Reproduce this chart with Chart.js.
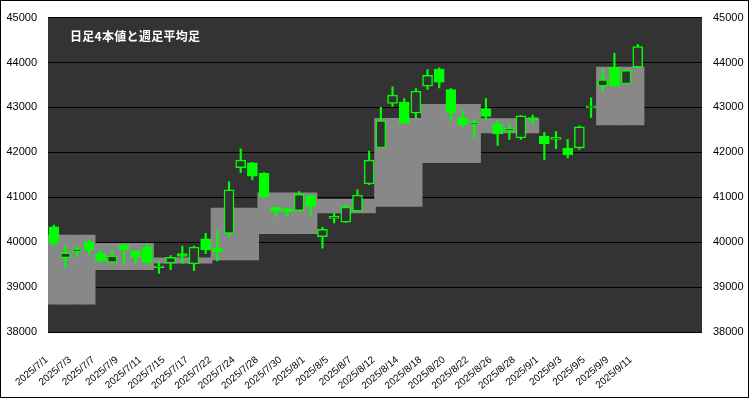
<!DOCTYPE html>
<html>
<head>
<meta charset="utf-8">
<script src="https://cdn.jsdelivr.net/npm/chart.js@4.4.1/dist/chart.umd.min.js"></script>
<style>
    html, body { margin: 0; padding: 0; background: #fff; }
    #wrap { position: relative; width: 749px; height: 398px; }
    #frame { position: absolute; left: 0; top: 0; width: 749px; height: 398px; box-sizing: border-box; border: 1px solid #000; pointer-events: none; }
    #title { position: absolute; left: 70px; top: 28px; color: #fff; font: bold 12px "Noto Sans CJK JP", sans-serif; line-height: 16px; white-space: nowrap; letter-spacing: 0.3px; }
</style>
</head>
<body>
<div id="wrap">
    <canvas id="candleChart" width="749" height="398"></canvas>
    <div id="title">日足4本値と週足平均足</div>
    <div id="frame"></div>
</div>
<script>
// Trading days (blank slots at the end are empty categories)
var dates = ["2025/7/1","2025/7/2","2025/7/3","2025/7/4","2025/7/7","2025/7/8","2025/7/9","2025/7/10","2025/7/11",
    "2025/7/14","2025/7/15","2025/7/16","2025/7/17","2025/7/18","2025/7/22","2025/7/23","2025/7/24","2025/7/25",
    "2025/7/28","2025/7/29","2025/7/30","2025/7/31","2025/8/1","2025/8/4","2025/8/5","2025/8/6","2025/8/7","2025/8/8",
    "2025/8/12","2025/8/13","2025/8/14","2025/8/15","2025/8/18","2025/8/19","2025/8/20","2025/8/21","2025/8/22",
    "2025/8/25","2025/8/26","2025/8/27","2025/8/28","2025/8/29","2025/9/1","2025/9/2","2025/9/3","2025/9/4","2025/9/5",
    "2025/9/8","2025/9/9","2025/9/10","2025/9/11","","","","",""];

// Daily four prices
var openPrices  = [40340,39650,39790,40010,39745,39550,39935,39805,39890,39430,39535,39745,39515,40075,39865,40195,41660,41765,
    41530,40775,40745,40700,41035,40120,40530,40445,40690,41295,42100,43090,43120,42870,43475,43855,43400,42775,42625,
    42975,42630,42490,42320,42775,42360,42290,42095,42100,42990,43475,43895,43525,43895];
var highPrices  = [40380,39930,39895,40040,39830,39830,39965,39810,39965,39585,39700,39915,39915,40195,40250,41345,42080,41775,
    41550,40780,40750,41125,41040,40330,40650,40850,41165,42030,43000,43460,43195,43420,43840,43880,43420,42925,42740,
    43195,42705,42630,42820,42830,42445,42460,42285,42590,43215,43840,44210,43830,44405];
var lowPrices   = [39910,39440,39675,39730,39550,39510,39510,39525,39510,39305,39390,39525,39365,39745,39585,40135,41550,41385,
    40990,40575,40575,40690,40610,39865,40430,40440,40680,41280,42095,43020,42640,42760,43400,43435,42705,42580,42335,
    42705,42155,42285,42285,42630,41835,42080,41875,42065,42775,43365,43470,43520,43890];
var closePrices = [39975,39760,39800,39820,39585,39695,39835,39660,39550,39445,39660,39680,39890,39830,39790,41165,41830,41470,
    41000,40690,40670,41065,40795,40285,40545,40780,41050,41825,42705,43275,42650,43365,43715,43560,42885,42615,42640,
    42800,42410,42505,42815,42730,42190,42305,41945,42570,43005,43620,43475,43825,44355];

// Weekly average bar (low / high) and number of trading days per week
var weekDays = [4,5,5,4,5,5,4,5,5,5,4];
var weekLow  = [38620,39390,39535,39605,40190,40650,40795,41770,42430,null,42610];
var weekHigh = [40160,39975,39650,40760,41100,40955,42755,43070,42750,null,43900];

// Axis range
var yMin = 38000;
var yMax = 45000;
var yStep = 1000;

var green = '#00ff00';
var plotBg = '#333333';

// Builds one [low, high] entry per day from the weekly lists
function weeklyRanges() {
    var out = [];
    for (var w = 0; w < weekDays.length; w++) {
        for (var d = 0; d < weekDays[w]; d++) {
            out.push(weekLow[w] === null ? null : [weekLow[w], weekHigh[w]]);
        }
    }
    return out;
}

var wicks = lowPrices.map(function(l, i) { return [l, highPrices[i]]; });
var bodies = openPrices.map(function(o, i) { return [o, closePrices[i]]; });
// Down days are filled green, up days are hollow
var bodyColors = openPrices.map(function(o, i) { return closePrices[i] < o ? green : plotBg; });

// Paints the dark plot area
var plotBackground = {
    id: 'plotBackground',
    beforeDraw: function(chart) {
        var a = chart.chartArea;
        var ctx = chart.ctx;
        ctx.save();
        ctx.fillStyle = plotBg;
        ctx.fillRect(a.left, a.top, a.right - a.left, a.bottom - a.top);
        ctx.restore();
    }
};

var axisFont = { family: 'Liberation Sans, Arial, sans-serif', size: 11 };
// Plain numbers, no thousands separator
function plainTick(value) { return String(value); }

var ctx = document.getElementById('candleChart').getContext('2d');
var myChart = new Chart(ctx, {
    type: 'bar',
    data: {
        labels: dates,
        datasets: [{
            label: 'week',
            data: weeklyRanges(),
            backgroundColor: '#888888',
            borderWidth: 0,
            grouped: false,
            // a bit wider than one slot so neighbouring days join without seams
            barThickness: 12.6,
            order: 3
        }, {
            label: 'wick',
            data: wicks,
            backgroundColor: green,
            grouped: false,
            barThickness: 1.5,
            order: 2
        }, {
            label: 'body',
            data: bodies,
            backgroundColor: bodyColors,
            borderColor: green,
            borderWidth: 1.5,
            borderSkipped: false,
            grouped: false,
            barThickness: 10,
            minBarLength: 2,
            order: 1
        }]
    },
    options: {
        responsive: false,
        animation: false,
        layout: { padding: { top: 14, left: 0, right: 0, bottom: 0 } },
        plugins: {
            legend: { display: false },
            tooltip: { enabled: false }
        },
        scales: {
            x: {
                grid: { display: false },
                border: { display: false },
                ticks: {
                    autoSkip: false,
                    maxRotation: 40,
                    minRotation: 40,
                    padding: 14,
                    labelOffset: -7,
                    color: '#000',
                    font: { family: 'Liberation Sans, Arial, sans-serif', size: 10 },
                    callback: function(value, index) {
                        return index % 2 === 0 ? this.getLabelForValue(value) : '';
                    }
                },
                afterFit: function(scale) { scale.height = 66; }
            },
            y: {
                position: 'left',
                min: yMin,
                max: yMax,
                grid: { color: '#000', lineWidth: 1, drawTicks: false },
                border: { display: false },
                ticks: { stepSize: yStep, padding: 11, color: '#000', font: axisFont, callback: plainTick },
                afterFit: function(scale) { scale.width = 48; }
            },
            y2: {
                position: 'right',
                min: yMin,
                max: yMax,
                grid: { display: false, drawTicks: false },
                border: { display: false },
                ticks: { stepSize: yStep, padding: 11, color: '#000', font: axisFont, callback: plainTick },
                afterFit: function(scale) { scale.width = 47; }
            }
        }
    },
    plugins: [plotBackground]
});
</script>
</body>
</html>
